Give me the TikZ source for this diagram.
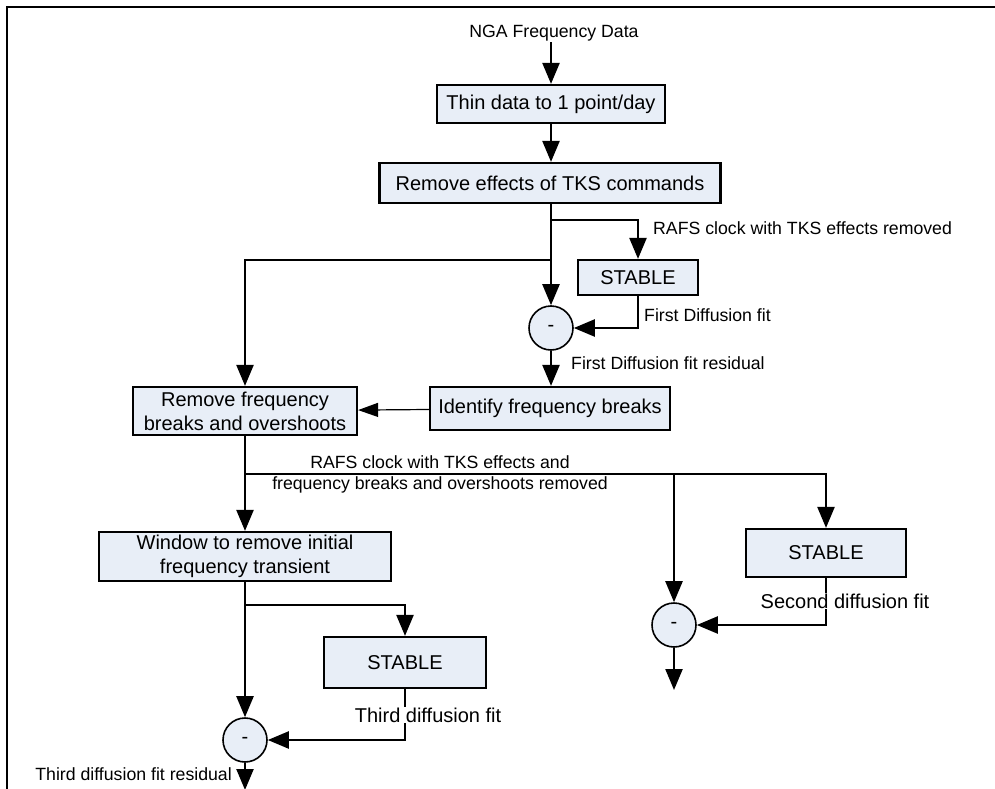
\documentclass[tikz,border=0pt]{standalone}
\usepackage{fontspec}
\setmainfont{Liberation Sans}
\usepackage{tikz}
\usetikzlibrary{arrows.meta}
\definecolor{boxfill}{RGB}{232,238,247}
\newcommand{\boxfont}{\fontsize{20}{24}\selectfont}
\newcommand{\lblfont}{\fontsize{17.7}{21}\selectfont}

\begin{document}
\begin{tikzpicture}
				[x=1pt, y=-1pt,
				box/.style={draw, line width=2.2pt, fill=boxfill, inner sep=0pt, align=center, font=\boxfont},
				sub/.style={draw, circle, line width=1.6pt, fill=boxfill, minimum size=44pt, inner sep=0pt, font=\boxfont},
				lbl/.style={inner sep=1pt, font=\lblfont, align=center},
				arr/.style={line width=2.3pt, -{Triangle[length=21pt, width=17pt]}}]
				\useasboundingbox (0,0) rectangle (995,789);
				\draw[line width=2.4pt] (995,7) -- (7,7) -- (7,789);
				\node[lbl] (src) at (554,33) {NGA Frequency Data};
				\node[box, minimum width=228, minimum height=38] (thin) at (551,104) {Thin data to 1 point/day};
				\node[box, minimum width=341, minimum height=40] (rem) at (550,183) {Remove effects of TKS commands};
				\node[box, minimum width=120, minimum height=35] (st1) at (638,277.5) {STABLE};
				\node[sub] (c1) at (551,328) {-};
				\node[box, minimum width=224, minimum height=48] (brk) at (245,411) {Remove frequency\\breaks and overshoots};
				\node[box, minimum width=240, minimum height=43] (idf) at (550,408.5) {Identify frequency breaks};
				\node[box, minimum width=292, minimum height=49] (win) at (245,556.5) {Window to remove initial\\frequency transient};
				\node[box, minimum width=160, minimum height=48] (st2) at (826,553) {STABLE};
				\node[sub] (c2) at (674,625) {-};
				\node[box, minimum width=162, minimum height=51] (st3) at (405,662.5) {STABLE};
				\node[sub] (c3) at (245,740) {-};
				\coordinate (j1) at (551,220);
				\coordinate (j2) at (551,260);
				\coordinate (j3) at (245,474);
				\coordinate (j4) at (674,474);
				\coordinate (j5) at (245,605);
				\coordinate (o2) at (674,690);
				\coordinate (o3) at (245,790);
				\draw[arr] (src.south -| thin) -- (thin);
				\draw[arr] (thin) -- (thin |- rem.north);
				\draw[arr] (rem.south -| c1) -- (c1);
				\draw[arr] (j1) -| (st1);
				\draw[arr] (j2) -| (brk);
				\draw[arr] (st1) |- (c1);
				\draw[arr] (c1) -- (c1 |- idf.north);
				\draw[line width=1.2pt, -{Triangle[length=20pt, width=14pt]}] (idf) -- (brk);
				\draw[arr] (brk) -- (win);
				\draw[arr] (j3) -| (st2);
				\draw[arr] (j4) -- (c2);
				\draw[arr] (st2) |- (c2);
				\draw[arr] (c2) -- (o2);
				\draw[arr] (win) -- (c3);
				\draw[arr] (j5) -| (st3);
				\draw[arr] (st3) |- (c3);
				\draw[arr] (c3) -- (o3);
				\node[lbl, anchor=west] (l1) at (652,228) {RAFS clock with TKS effects removed};
				\node[lbl, anchor=west] (l2) at (643,315) {First Diffusion fit};
				\node[lbl, anchor=west] (l3) at (570,363) {First Diffusion fit residual};
				\node[lbl] (l4) at (440,474) {RAFS clock with TKS effects and\\frequency breaks and overshoots removed};
				\node[lbl, fill=white, font=\boxfont] (l5) at (845,601) {Second diffusion fit};
				\node[lbl, fill=white, font=\boxfont] (l6) at (428,715) {Third diffusion fit};
				\node[lbl, anchor=east] (l7) at (233,774) {Third diffusion fit residual};
\end{tikzpicture}
\end{document}
